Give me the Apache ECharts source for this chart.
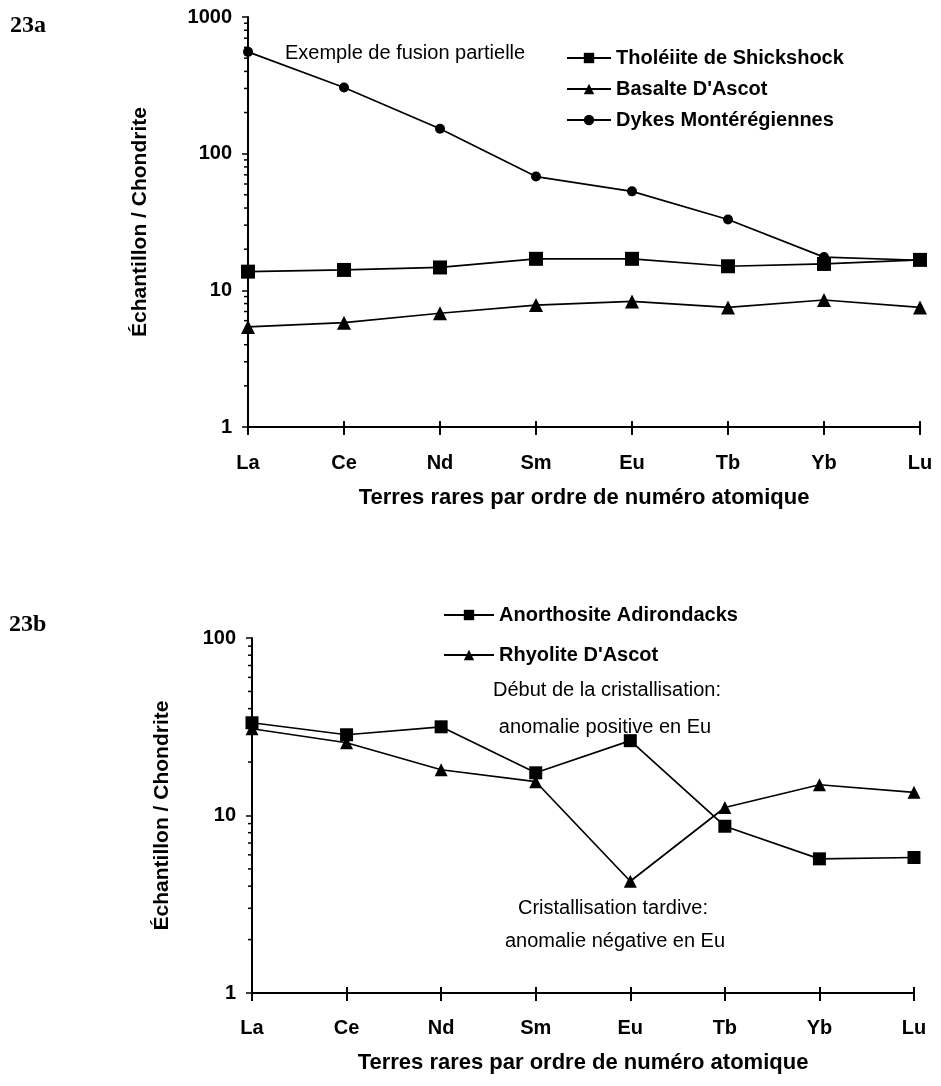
<!DOCTYPE html>
<html>
<head>
<meta charset="utf-8">
<script src="https://cdn.jsdelivr.net/npm/echarts@6/dist/echarts.min.js"></script>
<style>
html,body{margin:0;padding:0;background:#fff;}
#chart{width:941px;height:1086px;}
</style>
</head>
<body>
<div id="chart"></div>
<script>
const categories = ['La', 'Ce', 'Nd', 'Sm', 'Eu', 'Tb', 'Yb', 'Lu'];
const tholeiite = [13.7, 14.1, 14.7, 17.0, 17.0, 15.0, 15.6, 16.7];
const basalte = [5.4, 5.8, 6.8, 7.8, 8.3, 7.5, 8.5, 7.5];
const dykes = [556, 305, 152, 68, 53, 33, 17.5, 16.6];
const anorthosite = [33.3, 28.5, 31.6, 17.4, 26.4, 8.7, 5.7, 5.8];
const rhyolite = [30.8, 25.7, 18.1, 15.5, 4.26, 11.1, 14.9, 13.5];
const minorTicksA = [2,3,4,5,6,7,8,9,20,30,40,50,60,70,80,90,200,300,400,500,600,700,800,900];
const minorTicksB = [2,3,4,5,6,7,8,9,20,30,40,50,60,70,80,90];

const FONT = '"Liberation Sans", Arial, sans-serif';
const chart = echarts.init(document.getElementById('chart'), null, {renderer: 'canvas'});

function minorTickSeries(xi, yi, ticks) {
  return {
    type: 'custom', xAxisIndex: xi, yAxisIndex: yi, silent: true, clip: false, z: 5,
    data: ticks.map(v => [0, v]),
    encode: {x: 0, y: 1},
    renderItem: function (params, api) {
      const p = api.coord([api.value(0), api.value(1)]);
      return {type: 'line', shape: {x1: p[0] - 4, y1: p[1], x2: p[0], y2: p[1]},
              style: {stroke: '#000', lineWidth: 1.5}};
    }
  };
}

function xAxes(gi, margin, nameGap) {
  return [{
    type: 'category', gridIndex: gi, data: categories, boundaryGap: false, position: 'bottom',
    axisLine: {lineStyle: {color: '#000', width: 2}},
    axisTick: {show: true, length: 8, lineStyle: {color: '#000', width: 2}},
    axisLabel: {color: '#000', fontFamily: FONT, fontWeight: 'bold', fontSize: 20, margin: margin},
    name: 'Terres rares par ordre de numéro atomique', nameLocation: 'middle', nameGap: nameGap,
    nameTextStyle: {color: '#000', fontFamily: FONT, fontWeight: 'bold', fontSize: 22},
    splitLine: {show: false}
  }, {
    type: 'category', gridIndex: gi, data: categories, boundaryGap: false, position: 'bottom', offset: 0,
    axisLine: {show: false},
    axisTick: {show: true, inside: true, length: 6, lineStyle: {color: '#000', width: 2}},
    axisLabel: {show: false}, splitLine: {show: false}
  }];
}

function yAxis(gi, max, nameGap) {
  return {
    type: 'log', logBase: 10, gridIndex: gi, min: 1, max: max,
    axisLine: {show: true, lineStyle: {color: '#000', width: 2}},
    axisTick: {show: true, length: 6, lineStyle: {color: '#000', width: 1.5}},
    axisLabel: {color: '#000', fontFamily: FONT, fontWeight: 'bold', fontSize: 20, margin: 16,
                formatter: v => String(Math.round(v))},
    splitLine: {show: false},
    name: 'Échantillon / Chondrite', nameLocation: 'middle', nameGap: nameGap, nameRotate: 90,
    nameTextStyle: {color: '#000', fontFamily: FONT, fontWeight: 'bold', fontSize: 21}
  };
}

function lineSeries(name, data, xi, yi, symbol, size) {
  return {
    name: name, type: 'line', data: data, xAxisIndex: xi, yAxisIndex: yi,
    symbol: symbol, symbolSize: size, showSymbol: true,
    lineStyle: {color: '#000', width: 1.7}, itemStyle: {color: '#000', borderWidth: 0},
    emphasis: {disabled: true}, animation: false, z: 3
  };
}

const xa = xAxes(0, 26, 60);
const xb = xAxes(1, 25, 59);
const TXT = '20px ' + FONT;

const option = {
  backgroundColor: '#fff',
  animation: false,
  grid: [
    {left: 248, right: 21, top: 17, bottom: 659},
    {left: 252, right: 27, top: 638, bottom: 93}
  ],
  xAxis: [xa[0], xa[1], xb[0], xb[1]],
  yAxis: [yAxis(0, 1000, 97), yAxis(1, 100, 79)],
  legend: [{
    orient: 'vertical', left: 561, top: 42, itemWidth: 44, itemHeight: 13, itemGap: 9,
    data: ['Tholéiite de Shickshock', "Basalte D'Ascot", 'Dykes Montérégiennes'],
    textStyle: {color: '#000', fontFamily: FONT, fontWeight: 'bold', fontSize: 20, lineHeight: 22},
    selectedMode: false
  }, {
    orient: 'vertical', left: 438, top: 599, itemWidth: 50, itemHeight: 13, itemGap: 18,
    data: ['Anorthosite Adirondacks', "Rhyolite D'Ascot"],
    textStyle: {color: '#000', fontFamily: FONT, fontWeight: 'bold', fontSize: 20, lineHeight: 22},
    selectedMode: false
  }],
  series: [
    lineSeries('Tholéiite de Shickshock', tholeiite, 0, 0, 'rect', 14),
    lineSeries("Basalte D'Ascot", basalte, 0, 0, 'triangle', 14),
    lineSeries('Dykes Montérégiennes', dykes, 0, 0, 'circle', 10),
    lineSeries('Anorthosite Adirondacks', anorthosite, 2, 1, 'rect', 13),
    lineSeries("Rhyolite D'Ascot", rhyolite, 2, 1, 'triangle', 13),
    minorTickSeries(0, 0, minorTicksA),
    minorTickSeries(2, 1, minorTicksB)
  ],
  graphic: [
    {type: 'text', left: 10, top: 14, style: {text: '23a', font: 'bold 24px "Liberation Serif", "Times New Roman", serif', fill: '#000'}},
    {type: 'text', left: 9, top: 613, style: {text: '23b', font: 'bold 24px "Liberation Serif", "Times New Roman", serif', fill: '#000'}},
    {type: 'text', x: 285, y: 53, style: {text: 'Exemple de fusion partielle', font: TXT, fill: '#000', verticalAlign: 'middle'}},
    {type: 'text', x: 607, y: 690, style: {text: 'Début de la cristallisation:', font: TXT, fill: '#000', align: 'center', verticalAlign: 'middle'}},
    {type: 'text', x: 605, y: 727, style: {text: 'anomalie positive en Eu', font: TXT, fill: '#000', align: 'center', verticalAlign: 'middle'}},
    {type: 'text', x: 613, y: 908, style: {text: 'Cristallisation tardive:', font: TXT, fill: '#000', align: 'center', verticalAlign: 'middle'}},
    {type: 'text', x: 615, y: 941, style: {text: 'anomalie négative en Eu', font: TXT, fill: '#000', align: 'center', verticalAlign: 'middle'}}
  ]
};
chart.setOption(option);
</script>
</body>
</html>
